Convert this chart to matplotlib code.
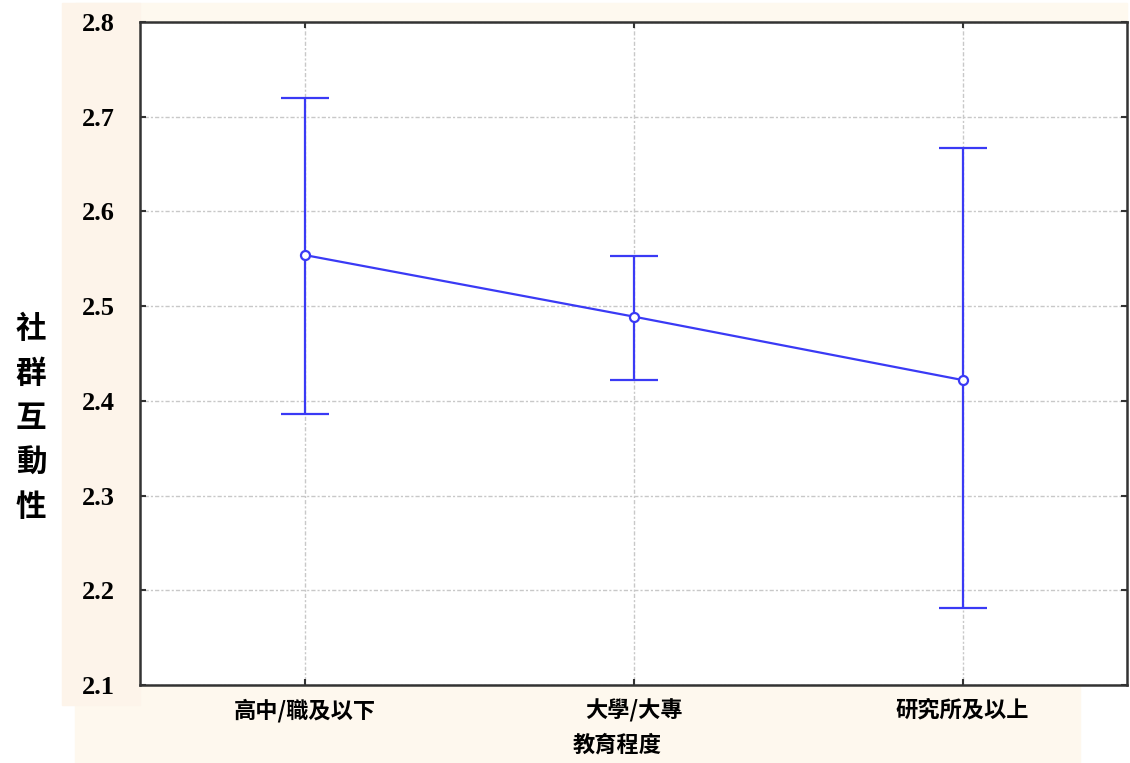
import matplotlib
matplotlib.use('Agg')
import matplotlib.pyplot as plt
from matplotlib.patches import Rectangle

plt.rcParams['font.family'] = ['Noto Sans CJK TC', 'DejaVu Sans']

categories = ['高中/職及以下', '大學/大專', '研究所及以上']
means = [2.554, 2.489, 2.422]
upper = [2.720, 2.553, 2.667]
lower = [2.386, 2.422, 2.181]
y_ticks = [2.1, 2.2, 2.3, 2.4, 2.5, 2.6, 2.7, 2.8]

W, H = 1130, 763
fig = plt.figure(figsize=(W / 100, H / 100), dpi=100)
fig.patch.set_facecolor('white')

# cream bands behind the labels, as in the screenshot
def band(x0, y0, x1, y1, color):
    fig.patches.append(Rectangle((x0 / W, 1 - y1 / H), (x1 - x0) / W, (y1 - y0) / H,
                                 transform=fig.transFigure, color=color, zorder=-10))

band(75, 3, 1127, 22, '#FEF9EF')
band(75, 685, 1080, 763, '#FEF8EE')
band(62, 3, 140, 705, '#FDF4EA')

ax = fig.add_axes([140 / W, 1 - 685 / H, (1127 - 140) / W, (685 - 22) / H])
ax.set_facecolor('white')

x = list(range(len(categories)))
err_lo = [m - l for m, l in zip(means, lower)]
err_hi = [u - m for u, m in zip(upper, means)]

ax.errorbar(x, means, yerr=[err_lo, err_hi], color='#3A3AF5', lw=1.6,
            capsize=17, capthick=1.6, marker='o', ms=6.5, mfc='white',
            mec='#3A3AF5', mew=1.6, zorder=3)

ax.set_xlim(-0.5, 2.5)
ax.set_ylim(2.1, 2.8)
ax.set_yticks(y_ticks)
ax.set_yticklabels([f'{v:.1f}' for v in y_ticks], family='Liberation Serif',
                   fontweight='bold', fontsize=19)
ax.set_xticks(x)
ax.set_xticklabels(categories, fontsize=16, fontweight='bold')
ax.tick_params(direction='in', length=4, width=1.5, top=True, right=True,
               color='#333333')
ax.tick_params(axis='y', pad=18)
ax.tick_params(axis='x', pad=10)

ax.grid(True, color='#C8C8C8', linestyle=(0, (1.5, 1.5, 3, 1.5)), lw=1)
for s in ax.spines.values():
    s.set_color('#333333')
    s.set_linewidth(1.8)

fig.text(617 / W, 1 - 745 / H, '教育程度', ha='center', va='center',
         fontsize=16, fontweight='bold')
fig.text(31 / W, 1 - 418 / H, '社\n群\n互\n動\n性', ha='center', va='center',
         fontsize=22, fontweight='bold', linespacing=1.5)

plt.savefig('out.png', dpi=100)
